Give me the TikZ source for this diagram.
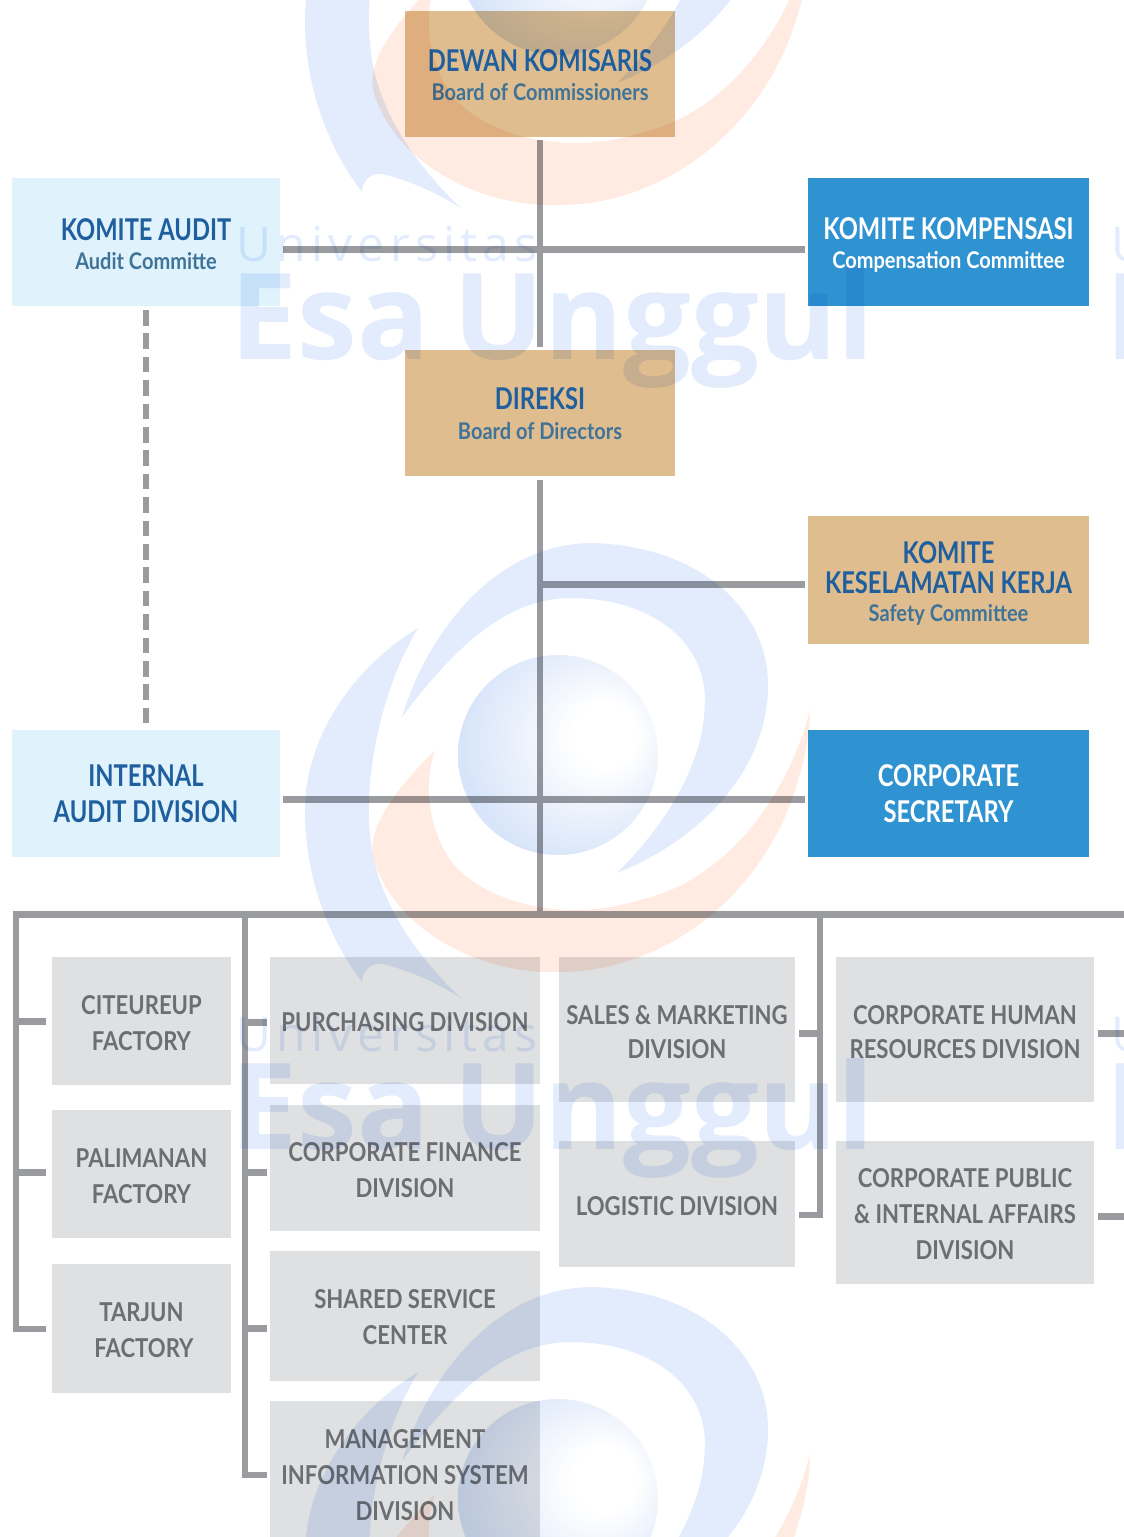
\documentclass[tikz,border=0pt]{standalone}
\usepackage{fontspec}
\setmainfont{Lato}
\newfontfamily\headfam[FakeStretch=0.79]{Lato}
\newfontfamily\subfont[FakeStretch=0.87]{Lato}
\newfontfamily\greyfam[FakeStretch=0.85]{Lato}
\newfontfamily\wmfam{Open Sans}
\newcommand{\headfont}{\headfam\bfseries}
\newcommand{\greyfont}{\greyfam\bfseries}
\definecolor{tanbg}{HTML}{DFBD8F}
\definecolor{pale}{HTML}{E0F3FD}
\definecolor{azure}{HTML}{3093D1}
\definecolor{greybox}{HTML}{DFE0E2}
\definecolor{linegrey}{HTML}{9A9B9F}
\definecolor{navy}{HTML}{1F5F9E}
\definecolor{subblue}{HTML}{3F7398}
\definecolor{greytxt}{HTML}{6D6E71}
\definecolor{wmblue}{HTML}{E2ECFC}
\definecolor{wmorange}{HTML}{FFEBE2}
\definecolor{wmsphere}{HTML}{D7E4F9}
\pgfdeclareradialshading{wmball}{\pgfpoint{14bp}{6bp}}{%
  color(0bp)=(white);color(8bp)=(white);color(30bp)=(wmsphere);color(50bp)=(wmsphere)}
\newcommand{\hs}[1]{{\fontsize{23}{30}\selectfont\subfont #1}}
\tikzset{
  x=1pt,y=-1pt,
  box/.style={anchor=north west,inner sep=0pt,outer sep=0pt,align=center},
  heading/.style={box,font=\fontsize{30}{33}\selectfont\headfont,text=navy},
  tanbox/.style={heading,fill=tanbg},
  palebox/.style={heading,fill=pale},
  bluebox/.style={heading,fill=azure,text=white},
  greynode/.style={box,fill=greybox,text=greytxt,font=\fontsize{26}{36}\selectfont\greyfont},
  conn/.style={draw=linegrey,line width=7pt},
  dashconn/.style={draw=linegrey,line width=6pt,dash pattern=on 15.5pt off 7.9pt},
  wmb/.style={fill=wmblue,draw=none,blend mode=multiply},
  wmo/.style={fill=wmorange,draw=none,blend mode=multiply},
}
\newcommand{\dn}[1]{\rule{0pt}{#1pt}}
\newcommand{\wmlogo}[3]{%
  \begin{scope}[shift={(0,#2)}]
    \fill[wmo] (810,710) .. controls (790,790) and (730,880) .. (640,900)
       .. controls (560,925) and (480,900) .. (450,860)
       .. controls (425,820) and (425,780) .. (435,750)
       .. controls (395,790) and (365,830) .. (374,860)
       .. controls (395,930) and (480,975) .. (560,972)
       .. controls (660,972) and (760,900) .. (795,790)
       .. controls (805,760) and (810,735) .. (810,710) -- cycle;
  \end{scope}
  \begin{scope}[shift={(0,#1)}]
    \fill[wmb] (402,717) .. controls (425,640) and (490,545) .. (590,543)
       .. controls (700,545) and (768,610) .. (768,685)
       .. controls (768,770) and (700,840) .. (617,873)
       .. controls (670,820) and (705,760) .. (705,700)
       .. controls (705,640) and (650,598) .. (570,598)
       .. controls (500,598) and (445,660) .. (402,717) -- cycle;
    \fill[wmb] (418,628) .. controls (350,670) and (305,740) .. (305,810)
       .. controls (305,880) and (330,940) .. (362,982)
       .. controls (362,972) and (370,962) .. (382,964)
       .. controls (410,970) and (440,985) .. (461,998)
       .. controls (420,960) and (385,910) .. (374,860)
       .. controls (360,800) and (375,700) .. (418,628) -- cycle;
  \end{scope}
  \begin{scope}[shift={(0,#3)},blend mode=multiply]
    \shade[shading=wmball] (558,755) circle (100);
  \end{scope}}
\begin{document}
\begin{tikzpicture}
\useasboundingbox (0,0) rectangle (1124,1537);
\clip (0,0) rectangle (1124,1537);
\fill[white] (0,0) rectangle (1124,1537);

% boxes
\node[tanbox,minimum width=270pt,minimum height=126pt] (dewan) at (405,11) {\dn{25}DEWAN KOMISARIS\\[-4pt]{\color{subblue}\hs{Board of Commissioners}}};
\node[palebox,minimum width=268pt,minimum height=128pt] (kaudit) at (12,178) {\dn{27}KOMITE AUDIT\\[-4pt]{\color{subblue}\hs{Audit Committe}}};
\node[bluebox,minimum width=281pt,minimum height=128pt] (kkomp) at (808,178) {\dn{28}KOMITE KOMPENSASI\\[-4pt]\hs{Compensation Committee}};
\node[tanbox,minimum width=270pt,minimum height=126pt] (direksi) at (405,350) {\dn{23}DIREKSI\\[-3pt]{\color{subblue}\hs{Board of Directors}}};
\node[tanbox,minimum width=281pt,minimum height=128pt,font=\fontsize{30}{30}\selectfont\headfont] (kselamat) at (808,516) {\dn{29}KOMITE\\KESELAMATAN KERJA\\[-2pt]{\color{subblue}\hs{Safety Committee}}};
\node[palebox,minimum width=268pt,minimum height=127pt,font=\fontsize{30}{36}\selectfont\headfont] (internal) at (12,730) {INTERNAL\\AUDIT DIVISION};
\node[bluebox,minimum width=281pt,minimum height=127pt,font=\fontsize{30}{36}\selectfont\headfont] (corsec) at (808,730) {CORPORATE\\SECRETARY};

\node[greynode,minimum width=179pt,minimum height=128pt] (cit) at (52,957) {\dn{23}CITEUREUP\\FACTORY};
\node[greynode,minimum width=179pt,minimum height=128pt] (pal) at (52,1110) {\dn{23}PALIMANAN\\FACTORY};
\node[greynode,minimum width=179pt,minimum height=129pt] (tar) at (52,1264) {\dn{23}TARJUN\\\hspace{5pt}FACTORY};
\node[greynode,minimum width=270pt,minimum height=127pt] (pur) at (270,957) {\dn{23}PURCHASING DIVISION};
\node[greynode,minimum width=270pt,minimum height=126pt] (fin) at (270,1105) {\dn{23}CORPORATE FINANCE\\DIVISION};
\node[greynode,minimum width=270pt,minimum height=130pt] (sha) at (270,1251) {\dn{22}SHARED SERVICE\\CENTER};
\node[greynode,minimum width=270pt,minimum height=148pt] (mis) at (270,1401) {MANAGEMENT\\INFORMATION SYSTEM\\DIVISION};
\node[greynode,minimum width=236pt,minimum height=145pt,font=\fontsize{26}{34}\selectfont\greyfont] (sal) at (559,957) {\dn{24}SALES \& MARKETING\\DIVISION};
\node[greynode,minimum width=236pt,minimum height=126pt] (log) at (559,1141) {\dn{23}LOGISTIC DIVISION};
\node[greynode,minimum width=258pt,minimum height=145pt,font=\fontsize{26}{34}\selectfont\greyfont] (hr) at (836,957) {\dn{24}CORPORATE HUMAN\\RESOURCES DIVISION};
\node[greynode,minimum width=258pt,minimum height=143pt] (pub) at (836,1141) {\dn{23}CORPORATE PUBLIC\\\& INTERNAL AFFAIRS\\DIVISION};

% junctions and free ends
\coordinate (jtop) at (540,249);
\coordinate (jsafe) at (540,584);
\coordinate (jcorp) at (540,799);
\coordinate (jbus) at (540,914);
\coordinate (busl) at (12.5,914);
\coordinate (busr) at (1124,914);
\coordinate (drop1) at (16,914);
\coordinate (drop2) at (245,914);
\coordinate (drop3) at (820,914);
\coordinate (tr1) at (1124,1033);
\coordinate (tr2) at (1124,1216);

% connectors
\draw[conn,line width=6pt,shorten <=3pt,shorten >=3pt] (dewan.south) -- (direksi.north);
\draw[conn,shorten <=3pt,shorten >=3pt] (kaudit.east |- jtop) -- (kkomp.west |- jtop);
\draw[conn,line width=6pt,shorten <=4pt] (direksi.south) -- (jbus);
\draw[conn,shorten >=3pt] (jsafe) -- (kselamat.west |- jsafe);
\draw[conn,shorten <=3pt,shorten >=3pt] (internal.east |- jcorp) -- (corsec.west |- jcorp);
\draw[dashconn,shorten <=4pt,shorten >=7pt] (kaudit.south) -- (internal.north);
\draw[conn] (busl) -- (busr);
\draw[conn,line width=6pt] (drop1) |- (46,1329);
\draw[conn] (16,1021.5) -- (46,1021.5);
\draw[conn] (16,1172) -- (46,1172);
\draw[conn,line width=6pt] (drop2) |- (267,1475);
\draw[conn] (245,1022) -- (267,1022);
\draw[conn] (245,1172) -- (267,1172);
\draw[conn] (245,1328) -- (267,1328);
\draw[conn,line width=6pt] (drop3) |- (799,1215);
\draw[conn] (820,1033) -- (799,1033);
\draw[conn] (1098,1033) -- (tr1);
\draw[conn] (1098,1216) -- (tr2);

% watermark, lying over everything
\wmlogo{-790}{-767}{-800}
\wmlogo{0}{0}{0}
\wmlogo{744}{744}{744}
\foreach \dx in {0,875} \foreach \dy in {0,790} {
  \node[blend mode=multiply,anchor=base west,inner sep=0pt,text=wmblue,font=\fontsize{120}{120}\selectfont\wmfam\bfseries] at (230+\dx,359+\dy) {Esa\hspace{-7pt} Unggul};
  \node[blend mode=multiply,anchor=base west,inner sep=0pt,text=wmblue,font=\fontsize{48}{48}\selectfont\wmfam\addfontfeature{LetterSpace=11}] at (236+\dx,261+\dy) {Universitas};
}
\end{tikzpicture}
\end{document}
